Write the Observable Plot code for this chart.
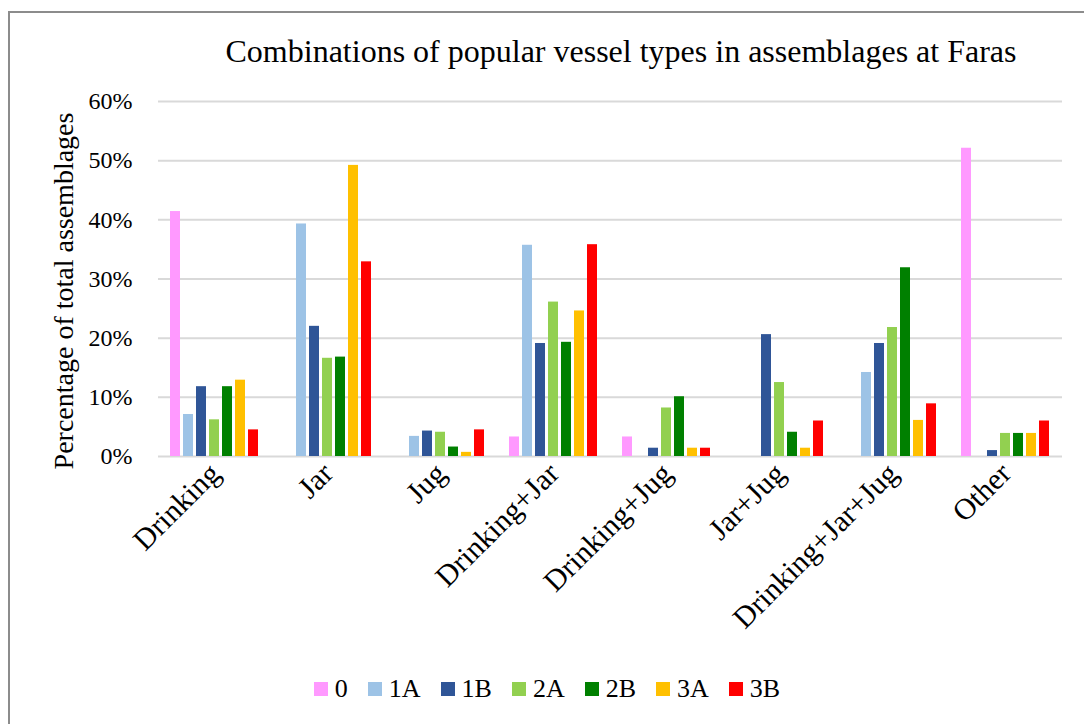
<!DOCTYPE html>
<html>
<head>
<meta charset="utf-8">
<script src="https://cdn.jsdelivr.net/npm/d3@7"></script>
<script src="https://cdn.jsdelivr.net/npm/@observablehq/plot@0.6"></script>
<style>
  html, body { margin: 0; padding: 0; background: #fff; overflow: hidden; }
  body { width: 1084px; height: 724px; position: relative; font-family: "Liberation Serif", "Times New Roman", serif; color: #000; }
  #frame { position: absolute; left: 8px; top: 11px; width: 1200px; height: 900px; border-top: 2px solid #8c8c8c; border-left: 2px solid #8c8c8c; pointer-events: none; }
  #title { position: relative; height: 80px; box-sizing: border-box; padding-top: 33px; padding-left: 158px; text-align: center; font-size: 32px; line-height: normal; white-space: nowrap; }
  #chart { position: relative; height: 580px; }
  #chart svg { display: block; }
  #legend { position: relative; display: flex; justify-content: center; padding-top: 12px; padding-left: 30px; }
  .lg-swatches .lg-swatch { margin-right: 20px !important; }
  .lg-swatches .lg-swatch > svg { margin-right: 7px !important; }
</style>
</head>
<body>
<div id="frame"></div>
<div id="title">Combinations of popular vessel types in assemblages at Faras</div>
<div id="chart"></div>
<div id="legend"></div>
<script>
const categories = ["Drinking", "Jar", "Jug", "Drinking+Jar", "Drinking+Jug", "Jar+Jug", "Drinking+Jar+Jug", "Other"];
const series = ["0", "1A", "1B", "2A", "2B", "3A", "3B"];
const seriesColors = ["#ff99ff", "#9dc3e6", "#2f5597", "#92d050", "#008000", "#ffc000", "#ff0000"];
const values0  = [41.4, 0, 0, 3.3, 3.3, 0, 0, 52.1];
const values1A = [7.1, 39.3, 3.4, 35.7, 0, 0, 14.2, 0];
const values1B = [11.8, 22.0, 4.3, 19.1, 1.4, 20.6, 19.1, 1.0];
const values2A = [6.2, 16.6, 4.1, 26.1, 8.2, 12.5, 21.8, 3.9];
const values2B = [11.8, 16.8, 1.6, 19.3, 10.1, 4.1, 31.9, 3.9];
const values3A = [12.9, 49.2, 0.7, 24.6, 1.4, 1.4, 6.1, 3.9];
const values3B = [4.5, 32.9, 4.5, 35.8, 1.4, 6.0, 8.9, 6.0];
const yTicks = [0, 10, 20, 30, 40, 50, 60];
const titleText = "Combinations of popular vessel types in assemblages at Faras";
const yLabel = "Percentage of total assemblages";

const seriesValues = [values0, values1A, values1B, values2A, values2B, values3A, values3B];
const data = [];
categories.forEach((c, i) => {
  series.forEach((s, j) => {
    data.push({category: c, series: s, value: seriesValues[j][i]});
  });
});

document.getElementById("title").textContent = titleText;

const chart = Plot.plot({
  width: 1084,
  height: 580,
  marginLeft: 155,
  marginRight: 19,
  marginTop: 21,
  marginBottom: 204,
  style: {fontFamily: "Liberation Serif, Times New Roman, serif", fontSize: "24px", color: "#000", background: "transparent", overflow: "visible"},
  fx: {domain: categories, paddingInner: 0, paddingOuter: 0, label: null},
  x: {domain: series, paddingInner: 0.227, paddingOuter: 0.871, axis: null},
  y: {domain: [0, 60], label: null},
  color: {domain: series, range: seriesColors},
  marks: [
    Plot.ruleY(yTicks, {stroke: "#d9d9d9", strokeWidth: 2}),
    Plot.barY(data.filter(d => d.value > 0), {fx: "category", x: "series", y: "value", fill: "series"}),
    Plot.axisY({ticks: yTicks, tickSize: 0, tickPadding: 26, tickFormat: d => d + "%", fontSize: 24, label: null}),
    Plot.text([yLabel], {fx: () => categories[0], text: d => d, frameAnchor: "left", rotate: -90, textAnchor: "middle", lineAnchor: "middle", dx: -94, dy: 12, fontSize: 28, fill: "#000"}),
    Plot.axisFx({anchor: "bottom", tickSize: 0, tickPadding: 12, tickRotate: -45, fontSize: 30, label: null})
  ]
});
document.getElementById("chart").appendChild(chart);

const legend = Plot.legend({
  color: {domain: series, range: seriesColors},
  legend: "swatches",
  swatchSize: 14,
  className: "lg",
  style: {fontFamily: "Liberation Serif, Times New Roman, serif", fontSize: "26px", color: "#000"}
});
document.getElementById("legend").appendChild(legend);
</script>
</body>
</html>
